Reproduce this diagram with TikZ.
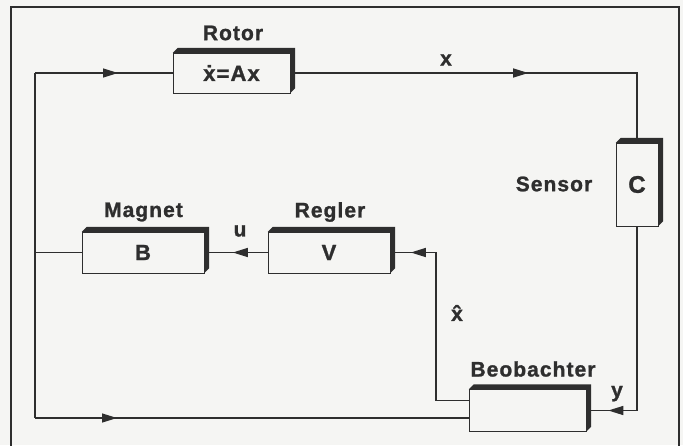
\documentclass[tikz,border=0pt]{standalone}
\usepackage{fontspec}
\setmainfont{Liberation Sans}[LetterSpace=5,BoldFeatures={FakeBold=1.2}]
\usetikzlibrary{arrows.meta,decorations.markings}
\definecolor{ink}{HTML}{2E2E2E}
\definecolor{bg}{HTML}{F5F5F3}
\tikzset{
  blk/.style args={#1/#2}{draw=ink, fill=bg, minimum width=#1, minimum height=#2,
    inner sep=0pt, font=\bfseries\fontsize{22}{22}\selectfont},
  lbl/.style={inner sep=0pt, font=\bfseries\fontsize{21}{21}\selectfont},
  sym/.style={inner sep=0pt, font=\bfseries\fontsize{21}{21}\selectfont},
  wire/.style={draw=ink, line width=1.3pt},
  arrowat/.style={postaction={decorate}, decoration={markings,
    mark=at position #1 with {\arrow{Triangle[length=15pt,width=9pt]}}}}
}
\begin{document}
\begin{tikzpicture}[x=1pt,y=-1pt,color=ink]
\fill[bg] (0,0) rectangle (683,445);
\useasboundingbox (0,0) rectangle (683,445);
\clip (0,0) rectangle (683,445);
\draw[wire, line width=1.2pt] (11,7) rectangle (679,470);

% blocks
\node[blk=117pt/40pt] (rotor) at (231.5,73) {\.{x}=Ax};
\node[blk=42pt/83pt, font=\bfseries\fontsize{24}{24}\selectfont] (sensor) at (637,184.5) {C};
\node[blk=122pt/41pt] (magnet) at (143,252.5) {B};
\node[blk=122pt/41pt] (regler) at (329,252.5) {V};
\node[blk=117pt/42pt] (beob) at (527.5,410.5) {};

% junction coordinates
\coordinate (jTop) at (35,73);
\coordinate (jMid) at (35,252.5);
\coordinate (jBot) at (35,418);
\coordinate (jHat) at (436,252.5);

% connectors
\draw[wire, arrowat=83pt] (jTop) -- (rotor.west);
\draw[wire, arrowat=238pt] (rotor.east) -| (sensor.north);
\draw[wire, arrowat=213pt] (sensor.south) |- (beob.east);
\draw[wire, arrowat=206pt] ([yshift=10pt]beob.west) -| (jHat) -- (regler.east);
\draw[wire, arrowat=35pt] (regler.west) -- (magnet.east);
\draw[wire] (magnet.west) -- (jMid);
\draw[wire] (jTop) -- (jBot);
\draw[wire, arrowat=82pt] (jBot) -- ([yshift=-7.5pt]beob.west);

% block depth
\foreach \n in {rotor,sensor,magnet,regler,beob}{
  \fill[ink] (\n.north west) -- ++(5pt,5pt) -- ([shift={(5pt,5pt)}]\n.north east)
    -- ([shift={(5pt,5pt)}]\n.south east) -- (\n.south east) -- (\n.north east) -- cycle;
}

% labels
\node[lbl] (lrotor) at (233,33) {Rotor};
\node[lbl] (lsensor) at (554,184) {Sensor};
\node[lbl] (lmagnet) at (143.5,212) {Magnet};
\node[lbl] (lregler) at (330,212) {Regler};
\node[lbl] (lbeob) at (533,369) {Beobachter};
\node[sym] (lx) at (446,60) {x};
\node[sym] (lu) at (240,231) {u};
\node[sym] (lxhat) at (457,313) {\^{x}};
\node[sym, anchor=base] (ly) at (617,397) {y};
\end{tikzpicture}
\end{document}
